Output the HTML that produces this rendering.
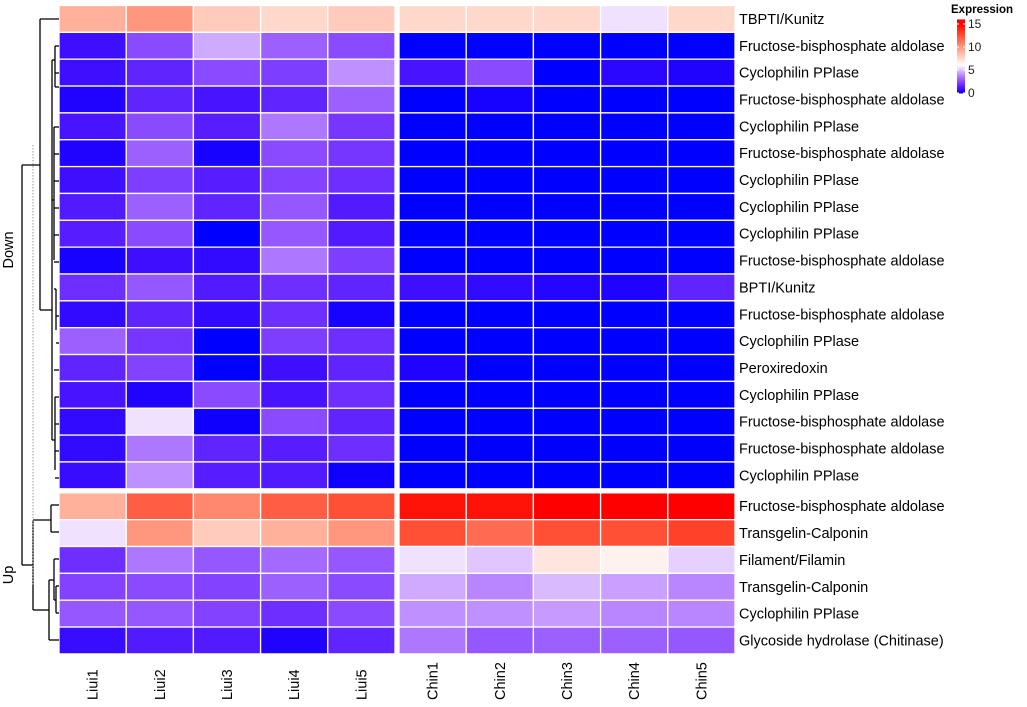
<!DOCTYPE html>
<html><head><meta charset="utf-8"><style>
body{margin:0;background:#fff;width:1027px;height:702px;overflow:hidden}
svg text{font-family:"Liberation Sans",Arial,sans-serif}
</style></head><body>
<svg id="chart" width="1027" height="702" xmlns="http://www.w3.org/2000/svg"></svg>
<script>
const columns=["Liui1","Liui2","Liui3","Liui4","Liui5","Chin1","Chin2","Chin3","Chin4","Chin5"];
const rowLabels=["TBPTI/Kunitz","Fructose-bisphosphate aldolase","Cyclophilin PPlase","Fructose-bisphosphate aldolase","Cyclophilin PPlase","Fructose-bisphosphate aldolase","Cyclophilin PPlase","Cyclophilin PPlase","Cyclophilin PPlase","Fructose-bisphosphate aldolase","BPTI/Kunitz","Fructose-bisphosphate aldolase","Cyclophilin PPlase","Peroxiredoxin","Cyclophilin PPlase","Fructose-bisphosphate aldolase","Fructose-bisphosphate aldolase","Cyclophilin PPlase","Fructose-bisphosphate aldolase","Transgelin-Calponin","Filament/Filamin","Transgelin-Calponin","Cyclophilin PPlase","Glycoside hydrolase (Chitinase)"];
const rowGroups=["Down","Down","Down","Down","Down","Down","Down","Down","Down","Down","Down","Down","Down","Down","Down","Down","Down","Down","Up","Up","Up","Up","Up","Up"];
const values=[
[9,10,8,7.5,8,7.5,7.5,7.5,5.5,7.5],
[0.8,2.5,4.5,3,2.5,0,0,0,0,0],
[0.8,1.5,2.5,2.2,4,1,2.5,0,0.5,0.3],
[0.3,1.5,1,1.5,3,0,0.2,0,0,0],
[1,2.5,1.3,3.5,2,0,0,0,0,0],
[0.3,3,0.2,2.5,2,0,0,0,0,0],
[0.8,2.2,1.3,2.3,1.8,0,0,0,0,0],
[1.2,3,1.5,2.8,1.2,0,0,0,0,0],
[1.3,2.5,0,2.8,1.2,0,0,0,0,0],
[0.2,0.8,0.6,3.5,2.2,0,0,0,0,0],
[1.8,2.8,1.2,1.8,1.5,0.8,0.6,0.4,0.3,1.5],
[0.6,1.5,0.6,1.8,0.2,0,0,0,0,0],
[3,2,0,2.2,1.8,0,0,0,0,0],
[1.5,2.3,0,0.8,1.5,0.3,0,0,0,0],
[1,0.3,2.5,1,1.8,0,0,0,0,0],
[0.6,5.5,0.1,2.5,1.5,0,0,0,0,0],
[0.6,3.5,1.5,1.3,1.8,0,0,0,0,0],
[0.7,4,1.3,1.2,0.1,0,0,0,0,0],
[9,12,10.5,12,12.5,14.5,14.5,15,15,15],
[5.5,10,8,9,10,12.5,11.5,12.5,12.5,13],
[1.8,3.5,2.8,3.2,2.8,5.5,5,7,6.5,5.2],
[2.3,2.5,2.3,3,2.5,4.5,3.8,4.8,4.3,3.8],
[2.8,2.8,2.3,1.8,2.5,4,4,4.2,3.8,3.8],
[0.7,1.2,1.2,0.3,1.5,3.5,2.8,3,3,2.8]];
const legendTicks=[0,5,10,15];

const NS="http://www.w3.org/2000/svg";
const svg=document.getElementById('chart');
function mk(t,a,p){const e=document.createElementNS(NS,t);for(const k in a)e.setAttribute(k,a[k]);(p||svg).appendChild(e);return e;}
function color(v){
  const mid=6,max=15;
  let r,g,b;
  if(v<=mid){const t=Math.max(0,v)/mid;r=255*Math.pow(t,0.7);g=255*Math.pow(t,1.4);b=255;}
  else{const t=Math.min(1,(v-mid)/(max-mid));r=255;g=255*Math.pow(1-t,0.9);b=255*Math.pow(1-t,1.2);}
  return `rgb(${r|0},${g|0},${b|0})`;
}
const cw=67.2,rh=26.85;
function xPos(c){return c<5?59+c*cw:399+(c-5)*cw;}
function yPos(r){let y=5.5+r*rh;if(rowGroups[r]==="Up")y+=4;return y;}
const cells=mk('g',{});


values.forEach((row,r)=>row.forEach((v,c)=>{
  const e=mk('rect',{x:xPos(c),y:yPos(r),width:cw,height:rh,fill:color(v),stroke:'#fff','stroke-width':1.3},cells);
  
  
}));
rowLabels.forEach((l,r)=>{
  const t=mk('text',{x:739,y:yPos(r)+rh/2+5,'font-size':14.5,fill:'#000'});t.textContent=l;
  
  
});
columns.forEach((l,c)=>{
  const x=xPos(c)+cw/2+5;
  const t=mk('text',{x:x,y:700,'font-size':14.5,transform:`rotate(-90 ${x} 700)`});t.textContent=l;
  
  
});
[["Down",250],["Up",575]].forEach(([s,y])=>{
  const t=mk('text',{x:13,y:y,'font-size':14.5,'text-anchor':'middle',transform:`rotate(-90 13 ${y})`});t.textContent=s;
  
  
});
const dg=mk('g',{stroke:'#000','stroke-width':1.3,fill:'none'});


const segs=[[22,165,22,565],[22,165,40,165],[22,565,33,565],[40,19,40,310],[40,19,59,19],[40,310,52,310],
[52,60,52,440],[52,60,55,60],[55,46,55,87],[55,46,59,46],[55,87,59,87],[55,73,59,73],
[52,200,54,200],[54,127,54,260],[54,127,59,127],[54,154,59,154],[54,181,59,181],[54,208,59,208],[54,235,59,235],[54,262,59,262],
[54,289,56,289],[56,289,56,330],[56,316,59,316],[56,343,59,343],[54,370,59,370],
[52,440,55,440],[55,397,55,470],[55,397,59,397],[55,424,59,424],[55,451,59,451],[55,478,59,478],
[33,520,33,610],[33,520,51,520],[51,505,51,532],[51,505,59,505],[51,532,59,532],
[33,610,49,610],[49,580,49,640],[49,640,59,640],[49,580,54,580],[54,559,54,600],[54,559,59,559],[54,600,56,600],[56,586,56,613],[56,586,59,586],[56,613,59,613]];
segs.forEach(s=>mk('line',{x1:s[0],y1:s[1],x2:s[2],y2:s[3]},dg));
const dl=mk('line',{x1:33,y1:145,x2:33,y2:585,stroke:'#999','stroke-width':1,'stroke-dasharray':'1.5,1.5'});


const lg=mk('g',{});


const lt=mk('text',{x:951,y:13,'font-size':11.5,'font-weight':'bold'},lg);lt.textContent="Expression";
const ly=v=>93-v*(69/15);
for(let i=0;i<60;i++){const v=i*16/60;mk('rect',{x:957,y:ly(v+16/60),width:8,height:16/60*4.6+0.5,fill:color(v)},lg);}
legendTicks.forEach(v=>{
  mk('line',{x1:957,x2:959,y1:ly(v),y2:ly(v),stroke:'#fff'},lg);
  mk('line',{x1:963,x2:965,y1:ly(v),y2:ly(v),stroke:'#fff'},lg);
  const t=mk('text',{x:968,y:ly(v)+4,'font-size':12,fill:'#222'},lg);t.textContent=v;
});
</script>
</body></html>
